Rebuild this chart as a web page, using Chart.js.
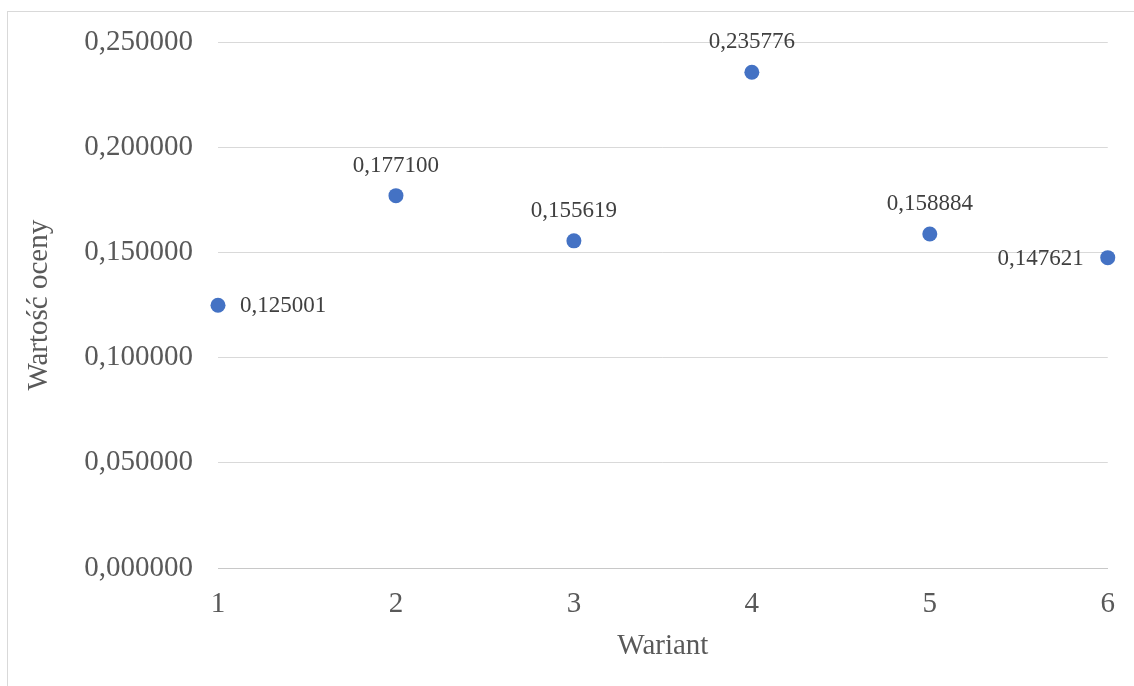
<!DOCTYPE html>
<html>
<head>
<meta charset="utf-8">
<script src="https://cdn.jsdelivr.net/npm/chart.js@4.4.1/dist/chart.umd.min.js"></script>
<style>
  html, body { margin: 0; padding: 0; background: #ffffff; }
  #wrap { width: 1134px; height: 686px; position: relative; }
</style>
</head>
<body>
<div id="wrap"><canvas id="c" width="1134" height="686"></canvas></div>
<script>
// Variant numbers and their scores
const variants = [1, 2, 3, 4, 5, 6];
const scores = [0.125001, 0.177100, 0.155619, 0.235776, 0.158884, 0.147621];
// Where each value label sits relative to its point
const labelSides = ['right', 'top', 'top', 'top', 'top', 'left'];
const yTicks = [0, 0.05, 0.10, 0.15, 0.20, 0.25];

const FONT = '"Liberation Serif", "Times New Roman", serif';
const fmt = v => v.toFixed(6).replace('.', ',');

// Thin frame around the whole chart
const framePlugin = {
  id: 'frame',
  beforeDraw(chart) {
    const ctx = chart.ctx;
    ctx.save();
    ctx.strokeStyle = '#d9d9d9';
    ctx.lineWidth = 1;
    ctx.strokeRect(7.5, 11.5, 3000, 3000);
    ctx.restore();
  }
};

// Value labels next to the points
const valueLabels = {
  id: 'valueLabels',
  afterDatasetsDraw(chart) {
    const ctx = chart.ctx;
    const meta = chart.getDatasetMeta(0);
    ctx.save();
    ctx.font = '23px ' + FONT;
    ctx.fillStyle = '#404040';
    meta.data.forEach((pt, i) => {
      const txt = fmt(scores[i]);
      const side = labelSides[i];
      if (side === 'top') {
        ctx.textAlign = 'center';
        ctx.textBaseline = 'middle';
        ctx.fillText(txt, pt.x, pt.y - 30);
      } else if (side === 'right') {
        ctx.textAlign = 'left';
        ctx.textBaseline = 'middle';
        ctx.fillText(txt, pt.x + 22, pt.y + 1);
      } else {
        ctx.textAlign = 'right';
        ctx.textBaseline = 'middle';
        ctx.fillText(txt, pt.x - 24, pt.y + 1);
      }
    });
    ctx.restore();
  }
};

new Chart(document.getElementById('c'), {
  type: 'scatter',
  data: {
    datasets: [{
      data: variants.map((x, i) => ({ x: x, y: scores[i] })),
      backgroundColor: '#4472c4',
      borderColor: '#4472c4',
      pointRadius: 7.5,
      pointHoverRadius: 7.5,
      borderWidth: 0,
      clip: false
    }]
  },
  options: {
    responsive: false,
    animation: false,
    devicePixelRatio: 1,
    layout: { padding: { left: 0, top: 42, right: 24, bottom: 0 } },
    plugins: {
      legend: { display: false },
      tooltip: { enabled: false }
    },
    scales: {
      x: {
        type: 'linear',
        min: 1,
        max: 6,
        afterBuildTicks(scale) { scale.ticks = variants.map(v => ({ value: v })); },
        ticks: {
          color: '#595959',
          font: { family: FONT, size: 29 },
          padding: 19,
          callback: v => String(v)
        },
        grid: { display: false, drawTicks: false },
        border: { display: true, color: '#c8c8c8', width: 1 },
        title: {
          display: true,
          text: 'Wariant',
          color: '#595959',
          font: { family: FONT, size: 29 },
          padding: { top: 8, bottom: 22 }
        },
        afterFit(scale) { scale.height = 118; }
      },
      y: {
        type: 'linear',
        min: 0,
        max: 0.25,
        afterBuildTicks(scale) { scale.ticks = yTicks.map(v => ({ value: v })); },
        ticks: {
          color: '#595959',
          font: { family: FONT, size: 29 },
          padding: 25,
          callback: v => fmt(v)
        },
        grid: { color: '#d9d9d9', lineWidth: 1, drawTicks: false },
        border: { display: false },
        title: {
          display: true,
          text: 'Wartość oceny',
          color: '#595959',
          font: { family: FONT, size: 29 },
          padding: { top: 22, bottom: 0 }
        },
        afterFit(scale) { scale.width = 218; }
      }
    }
  },
  plugins: [framePlugin, valueLabels]
});
</script>
</body>
</html>
